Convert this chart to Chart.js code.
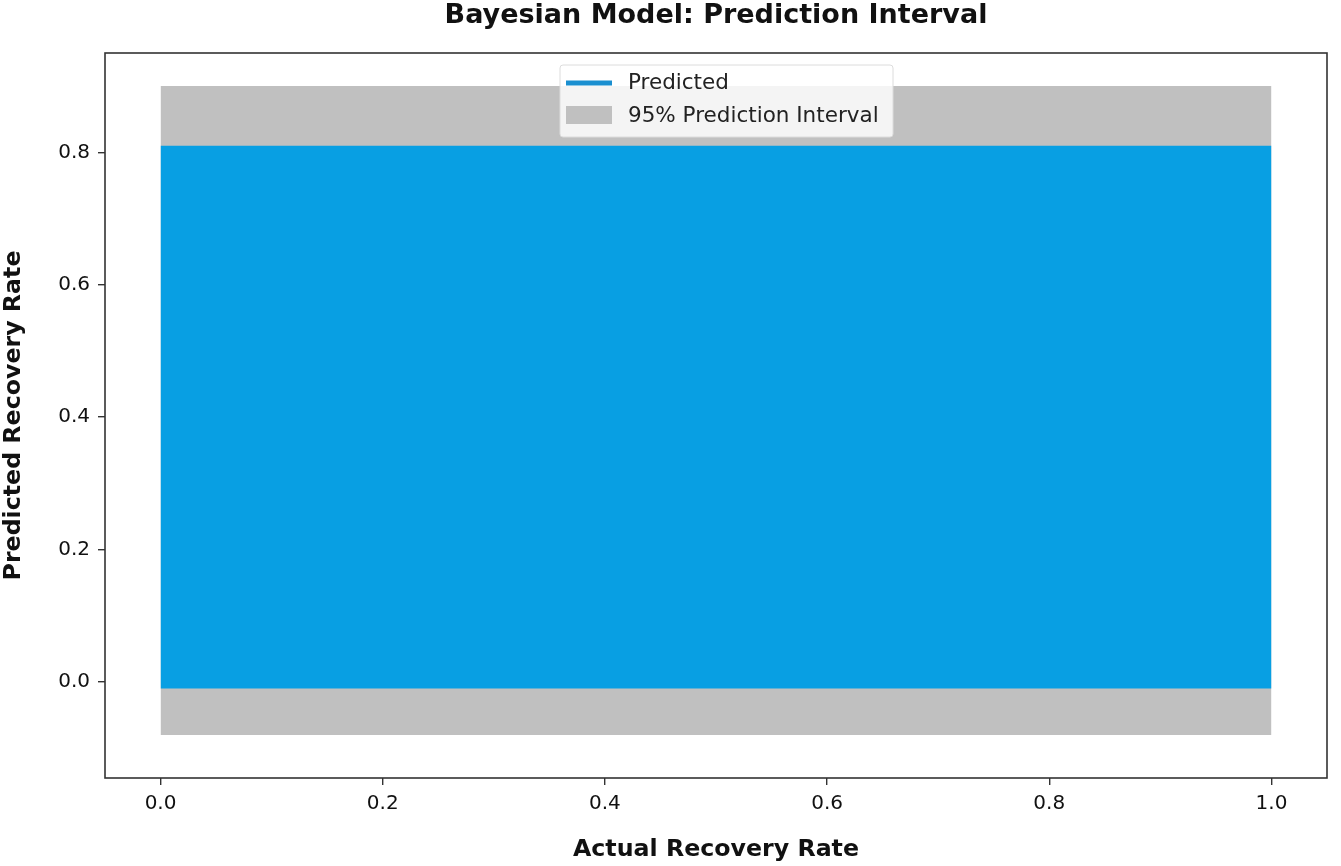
<!DOCTYPE html>
<html>
<head>
<meta charset="utf-8">
<script src="https://cdn.jsdelivr.net/npm/chart.js@4/dist/chart.umd.min.js"></script>
<style>
  html, body { margin: 0; padding: 0; background: #ffffff; }
  #wrap { width: 1341px; height: 866px; }
</style>
</head>
<body>
<div id="wrap"><canvas id="c" width="1341" height="866"></canvas></div>
<script>
// ---- data ----
const actualRate = [0.0, 1.0];
const intervalUpper = [0.90, 0.90];
const intervalLower = [-0.08, -0.08];
const predictedUpper = [0.81, 0.81];
const predictedLower = [-0.01, -0.01];
const xTicks = [0.0, 0.2, 0.4, 0.6, 0.8, 1.0];
const yTicks = [0.0, 0.2, 0.4, 0.6, 0.8];
const legendLabels = ['Predicted', '95% Prediction Interval'];

const BLUE = '#089fe3';
const LEGEND_BLUE = '#1a8fd0';
const GRAY = '#c0c0c0';

const pts = (ys) => actualRate.map((x, i) => ({ x: x, y: ys[i] }));

const framePlugin = {
  id: 'frame',
  afterDraw(chart) {
    const { ctx, chartArea: a } = chart;
    ctx.save();
    ctx.strokeStyle = '#333333';
    ctx.lineWidth = 1.6;
    ctx.strokeRect(a.left, a.top, a.right - a.left, a.bottom - a.top);
    ctx.restore();
  }
};

const legendPlugin = {
  id: 'customLegend',
  afterDraw(chart) {
    const { ctx } = chart;
    ctx.save();
    const x = 560, y = 65, w = 333, h = 72;
    ctx.fillStyle = 'rgba(255,255,255,0.82)';
    ctx.strokeStyle = '#dcdcdc';
    ctx.lineWidth = 1;
    ctx.beginPath();
    if (ctx.roundRect) ctx.roundRect(x, y, w, h, 3); else ctx.rect(x, y, w, h);
    ctx.fill();
    ctx.stroke();
    // Predicted line marker
    ctx.strokeStyle = LEGEND_BLUE;
    ctx.lineWidth = 5;
    ctx.beginPath();
    ctx.moveTo(566, 83);
    ctx.lineTo(612, 83);
    ctx.stroke();
    // Interval patch marker
    ctx.fillStyle = GRAY;
    ctx.fillRect(566, 106, 46, 18);
    ctx.fillStyle = '#222222';
    ctx.font = '21.5px "DejaVu Sans"';
    ctx.textBaseline = 'middle';
    ctx.textAlign = 'left';
    ctx.fillText(legendLabels[0], 628, 83);
    ctx.fillText(legendLabels[1], 628, 116);
    ctx.restore();
  }
};

new Chart(document.getElementById('c'), {
  type: 'line',
  data: {
    datasets: [
      {
        label: '95% Prediction Interval',
        data: pts(intervalUpper),
        borderWidth: 0,
        borderColor: GRAY,
        backgroundColor: GRAY,
        pointRadius: 0,
        fill: 1,
        order: 3
      },
      {
        label: 'interval-lower',
        data: pts(intervalLower),
        borderWidth: 0,
        borderColor: GRAY,
        pointRadius: 0,
        fill: false,
        order: 3
      },
      {
        label: 'Predicted',
        data: pts(predictedUpper),
        borderWidth: 0,
        borderColor: BLUE,
        backgroundColor: BLUE,
        pointRadius: 0,
        fill: 3,
        order: 1
      },
      {
        label: 'predicted-lower',
        data: pts(predictedLower),
        borderWidth: 0,
        borderColor: BLUE,
        pointRadius: 0,
        fill: false,
        order: 1
      }
    ]
  },
  options: {
    responsive: false,
    animation: false,
    layout: { padding: { left: 0, right: 14, top: 0, bottom: 0 } },
    plugins: {
      legend: { display: false },
      tooltip: { enabled: false },
      title: {
        display: true,
        fullSize: false,
        text: 'Bayesian Model: Prediction Interval',
        color: '#111111',
        font: { family: 'DejaVu Sans', size: 27, weight: 'bold', lineHeight: 1.2 },
        padding: { top: 0, bottom: 20.6 }
      }
    },
    scales: {
      x: {
        type: 'linear',
        min: -0.05,
        max: 1.05,
        afterBuildTicks: (s) => { s.ticks = xTicks.map(v => ({ value: v })); },
        afterFit: (s) => { s.height = 88; },
        grid: { display: true, drawOnChartArea: false, drawTicks: true, tickLength: 7, color: '#333333', lineWidth: 1.4 },
        border: { display: false },
        ticks: {
          color: '#111111',
          font: { family: 'DejaVu Sans', size: 20 },
          padding: 7,
          callback: (v) => Number(v).toFixed(1)
        },
        title: {
          display: true,
          text: 'Actual Recovery Rate',
          color: '#111111',
          font: { family: 'DejaVu Sans', size: 23.7, weight: 'bold', lineHeight: 1.2 },
          padding: { top: 0, bottom: 2 }
        }
      },
      y: {
        type: 'linear',
        min: -0.145,
        max: 0.95,
        afterBuildTicks: (s) => { s.ticks = yTicks.map(v => ({ value: v })); },
        afterFit: (s) => { s.width = 105; },
        grid: { display: true, drawOnChartArea: false, drawTicks: true, tickLength: 7, color: '#333333', lineWidth: 1.4 },
        border: { display: false },
        ticks: {
          color: '#111111',
          font: { family: 'DejaVu Sans', size: 20 },
          padding: 8,
          callback: (v) => Number(v).toFixed(1)
        },
        title: {
          display: true,
          text: 'Predicted Recovery Rate',
          color: '#111111',
          font: { family: 'DejaVu Sans', size: 23.7, weight: 'bold', lineHeight: 1.2 },
          padding: { top: 0, bottom: 0 }
        }
      }
    }
  },
  plugins: [framePlugin, legendPlugin]
});
</script>
</body>
</html>
